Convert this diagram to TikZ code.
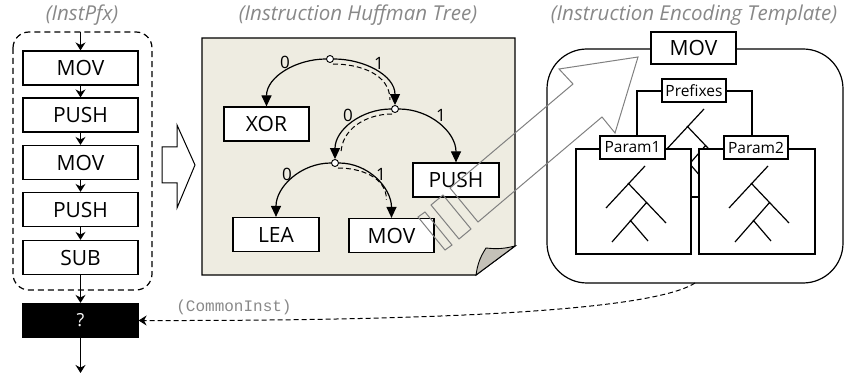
\documentclass[tikz,border=0pt]{standalone}
\usepackage{fontspec}
\setmainfont{Open Sans}
\setmonofont{Liberation Mono}
\usetikzlibrary{arrows.meta}
\definecolor{paper}{HTML}{EEECE1}
\definecolor{foldgray}{HTML}{C4C1B8}
\definecolor{titlegray}{HTML}{888888}
\begin{document}
\begin{tikzpicture}
[
    x=1pt, y=-1pt,
    line width=1.2pt,
    title/.style={text=titlegray, font=\fontsize{20.5}{24}\selectfont\itshape},
    box/.style={draw, fill=white, minimum width=#1, minimum height=34pt, inner sep=0pt, font=\fontsize{21}{25}\selectfont},
    tag/.style={draw, fill=white, minimum width=#1, minimum height=23pt, inner sep=0pt, font=\fontsize{15.5}{18}\selectfont},
    knot/.style={draw, circle, fill=white, inner sep=0pt, minimum size=7pt, line width=0.9pt},
    bit/.style={font=\fontsize{17}{20}\selectfont},
    flow/.style={-{Stealth[length=8pt,width=10pt]}},
    branch/.style={-{Triangle[length=11pt,width=10pt]}},
    trail/.style={dash pattern=on 5pt off 3pt, line width=1pt}
]
    \useasboundingbox (0,0) rectangle (854,374);

    % titles
    \node [title] (t1) at (82,15) {(InstPfx)};
    \node [title] (t2) at (358,15) {(Instruction Huffman Tree)};
    \node [title] (t3) at (694,15) {(Instruction Encoding Template)};

    % instruction prefix chain
    \draw [dash pattern=on 6pt off 4pt, rounded corners=16pt] (13,32) rectangle (152,290);
    \coordinate (pin) at (80.5,32);
    \node [box=115pt] (i1) at (80.5,68) {MOV};
    \node [box=115pt] (i2) at (80.5,115) {PUSH};
    \node [box=115pt] (i3) at (80.5,162.5) {MOV};
    \node [box=115pt] (i4) at (80.5,209.5) {PUSH};
    \node [box=115pt] (i5) at (80.5,257.5) {SUB};
    \node [box=115pt, fill=black, text=white, font=\fontsize{18}{21}\selectfont] (q) at (80.5,320.5) {?};
    \coordinate (pout) at (80.5,373);
    \draw [flow] (pin) -- (i1);
    \draw [flow] (i1) -- (i2);
    \draw [flow] (i2) -- (i3);
    \draw [flow] (i3) -- (i4);
    \draw [flow] (i4) -- (i5);
    \draw [flow] (i5) -- (q);
    \draw [flow] (q) -- (pout);

    % hollow arrow
    \draw [line width=1pt, fill=white] (162,147) -- (177,147) -- (177,125) -- (195,165)
        -- (177,208) -- (177,183) -- (162,183) -- cycle;

    % huffman tree page
    \draw [fill=paper] (202,38) -- (515,38) -- (515,246) -- (476,275) -- (202,275) -- cycle;
    \draw [fill=foldgray, line width=0.9pt] (476,275) to[bend left=12] (486,248)
        to[bend right=10] (515,246) -- cycle;

    \node [knot] (r) at (330,59) {};
    \node [knot] (n2) at (395,109) {};
    \node [knot] (n3) at (335,163) {};
    \node [box=85pt] (xor) at (266.5,124) {XOR};
    \node [box=86pt] (lea) at (276,234.5) {LEA};
    \node [box=85pt] (mov) at (391.5,235.5) {MOV};
    \node [box=86pt] (push) at (456,180) {PUSH};

    \draw [branch] (r) to[out=180, in=90] (xor.north);
    \draw [branch] (r) to[out=0, in=90] (n2.north);
    \draw [branch] (n2) to[out=180, in=90] (n3.north);
    \draw [branch] (n2) to[out=0, in=90] (push.north);
    \draw [branch] (n3) to[out=180, in=90] (lea.north);
    \draw [branch] (n3) to[out=0, in=90] (mov.north);

    \draw [trail] ([shift={(3,5)}]r.center) to[out=0, in=90] ([shift={(-5,-9)}]n2.center);
    \draw [trail] ([shift={(-3,5)}]n2.center) to[out=180, in=90] ([shift={(6,-9)}]n3.center);
    \draw [trail] ([shift={(3,5)}]n3.center) to[out=0, in=90] ([shift={(-5,-18)}]mov.north);

    \node [bit] (b1) at (285,62) {0};
    \node [bit] (b2) at (379,63) {1};
    \node [bit] (b3) at (348,115) {0};
    \node [bit] (b4) at (441,115) {1};
    \node [bit] (b5) at (287,174) {0};
    \node [bit] (b6) at (381,174) {1};

    % encoding template
    \draw [rounded corners=40pt] (547,49) rectangle (843,283);
    \node [box=85pt, minimum height=32pt] (tmov) at (693.5,48) {MOV};
    \draw (637,91) rectangle (752,197);
    \draw (704,109) -- (665,151) (687,126) -- (725,166) (706,145) -- (671,185) (689,163) -- (707,184);
    \node [tag=64pt] (pre) at (694,90.5) {Prefixes};
    \draw [fill=white] (576,149) rectangle (691,254);
    \draw [fill=white] (699,149) rectangle (815,254);
    \foreach \dx in {0,123} {
        \draw [xshift=\dx] (645,166) -- (606,208) (628,183) -- (666,223)
            (647,202) -- (612,242) (630,220) -- (648,241);
    }
    \node [tag=65pt] (p1) at (632.5,147.5) {Param1};
    \node [tag=64pt] (p2) at (756,147.5) {Param2};

    % striped arrow to template
    \begin{scope}[draw=gray, fill=white, fill opacity=0.6, line width=1pt]
        \draw (450,188) -- (573,84) -- (559,69) -- (638,57) -- (615,133) -- (602,117)
            -- (478,222) -- cycle;
        \draw (443,195) -- (471,229) -- (459,239) -- (431,205) -- cycle;
        \draw (425,212) -- (452,245) -- (445,250) -- (418,217) -- cycle;
    \end{scope}

    % common instruction feedback
    \coordinate (tb) at (695,283);
    \draw [flow, trail] (tb) .. controls (650,312) and (420,321) .. (q.east);
    \node [text=titlegray, font=\ttfamily\fontsize{16}{19}\selectfont] (ci) at (234,307) {(CommonInst)};
\end{tikzpicture}
\end{document}
